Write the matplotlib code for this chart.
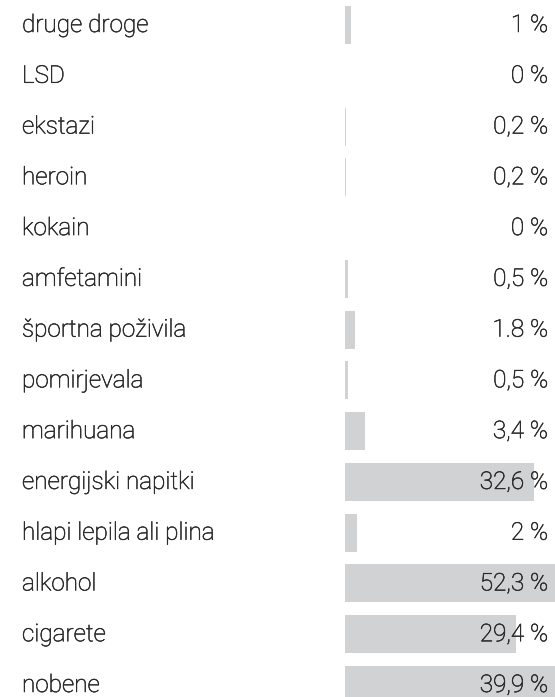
import matplotlib
matplotlib.use("Agg")
import matplotlib.pyplot as plt
import matplotlib.transforms as mtransforms
import matplotlib.patheffects as pe

categories = ["druge droge", "LSD", "ekstazi", "heroin", "kokain", "amfetamini",
              "športna poživila", "pomirjevala", "marihuana", "energijski napitki",
              "hlapi lepila ali plina", "alkohol", "cigarete", "nobene"]
values = [1, 0, 0.2, 0.2, 0, 0.5, 1.8, 0.5, 3.4, 32.6, 2, 52.3, 29.4, 39.9]
value_labels = ["1 %", "0 %", "0,2 %", "0,2 %", "0 %", "0,5 %", "1.8 %", "0,5 %",
                "3,4 %", "32,6 %", "2 %", "52,3 %", "29,4 %", "39,9 %"]

W, H = 555, 697
DPI = 100
fig = plt.figure(figsize=(W / DPI, H / DPI), dpi=DPI)
fig.patch.set_facecolor("white")

bar_left_px = 345
ax = fig.add_axes([bar_left_px / W, 0, 1 - bar_left_px / W, 1])
ax.set_facecolor("none")

step_px = 50.77
first_px = 25
n = len(categories)
ys = list(range(n))
ax.barh(ys, values, height=38 / step_px, color="#d1d2d4", left=0, zorder=1)
ax.set_xlim(0, 210 / 5.8)
ax.set_ylim((H - first_px) / step_px, -first_px / step_px)
ax.axis("off")

txt_color = "#2a2a2a"
font = dict(family=["Roboto", "DejaVu Sans"], weight="light", size=17.5, color=txt_color,
            path_effects=[pe.withStroke(linewidth=0.4, foreground=txt_color)])
baseline_off = 7.0 / step_px
trans_lab = mtransforms.blended_transform_factory(fig.transFigure, ax.transData)
for y, cat, lab in zip(ys, categories, value_labels):
    ax.text(22 / W, y + baseline_off, cat, transform=trans_lab, ha="left", va="baseline", **font)
    ax.text(548 / W, y + baseline_off, lab, transform=trans_lab, ha="right", va="baseline", zorder=3, **font)

fig.savefig("out.png", dpi=DPI, facecolor="white")
